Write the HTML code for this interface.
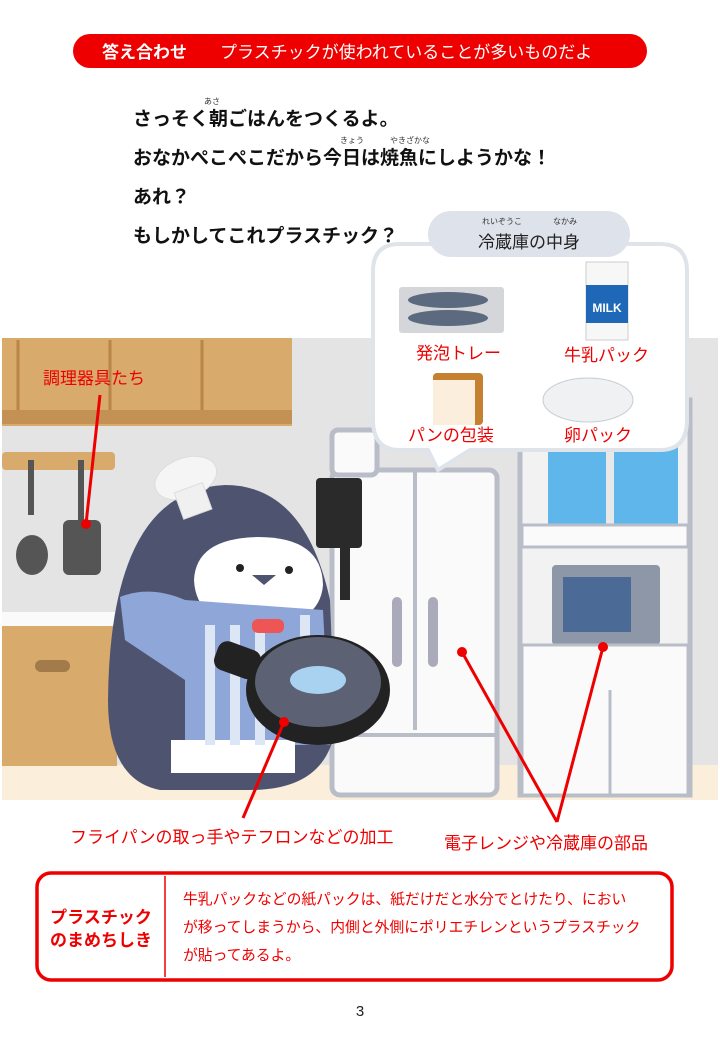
<!DOCTYPE html>
<html><head><meta charset="utf-8"><style>
body{margin:0;background:#fff;}
svg{display:block}
text{font-family:"Liberation Sans","Noto Sans CJK JP",sans-serif;}
</style></head><body>
<svg width="720" height="1040" viewBox="0 0 720 1040" xmlns="http://www.w3.org/2000/svg">
<defs><clipPath id="sc"><rect x="2" y="338" width="716" height="462"/></clipPath></defs>
<rect width="720" height="1040" fill="#fff"/>
<rect x="73" y="34" width="574" height="34" rx="17" fill="#ee0000"/>
<text x="102" y="58" font-size="17" font-weight="bold" fill="#fff">答え合わせ</text>
<text x="220" y="58" font-size="17" fill="#fff">プラスチックが使われていることが多いものだよ</text>
<g font-size="19" font-weight="bold" fill="#111">
<text x="133" y="125">さっそく朝ごはんをつくるよ。</text>
<text x="133" y="164">おなかぺこぺこだから今日は焼魚にしようかな！</text>
<text x="133" y="203">あれ？</text>
<text x="133" y="242">もしかしてこれプラスチック？</text>
</g>
<g font-size="8" fill="#333">
<text x="204" y="104">あさ</text><text x="340" y="143">きょう</text><text x="390" y="143">やきざかな</text>
</g>
<g clip-path="url(#sc)">
<rect x="2" y="338" width="716" height="430" fill="#e4e4e4"/>
<rect x="2" y="765" width="716" height="35" fill="#fbeedb"/>
<rect x="2" y="338" width="290" height="88" fill="#d8aa6c"/>
<rect x="2" y="410" width="290" height="14" fill="#c49155"/>
<line x1="18" y1="340" x2="18" y2="410" stroke="#b98549" stroke-width="3"/>
<line x1="110" y1="340" x2="110" y2="410" stroke="#b98549" stroke-width="3"/>
<line x1="202" y1="340" x2="202" y2="410" stroke="#b98549" stroke-width="3"/>
<rect x="2" y="452" width="113" height="18" rx="4" fill="#d8aa6c"/>
<rect x="28" y="460" width="6" height="55" fill="#555"/><ellipse cx="32" cy="555" rx="16" ry="20" fill="#555"/>
<rect x="78" y="460" width="6" height="60" fill="#555"/><rect x="63" y="520" width="38" height="55" rx="6" fill="#555"/>
<rect x="2" y="612" width="115" height="14" fill="#fafafa"/>
<rect x="2" y="626" width="115" height="140" fill="#d8aa6c"/>
<rect x="35" y="660" width="35" height="12" rx="6" fill="#a37a4a"/>
<rect x="332" y="470" width="165" height="325" rx="8" fill="#fafafa" stroke="#b8bdc8" stroke-width="5"/>
<line x1="415" y1="470" x2="415" y2="730" stroke="#b8bdc8" stroke-width="4"/>
<line x1="335" y1="735" x2="495" y2="735" stroke="#b8bdc8" stroke-width="4"/>
<rect x="392" y="597" width="10" height="70" rx="5" fill="#aab"/><rect x="428" y="597" width="10" height="70" rx="5" fill="#aab"/>
<rect x="332" y="430" width="45" height="45" rx="6" fill="#fafafa" stroke="#b8bdc8" stroke-width="5"/>
<rect x="520" y="400" width="170" height="395" fill="#f2f2f2" stroke="#b8bdc8" stroke-width="5"/>
<rect x="548" y="440" width="130" height="85" fill="#5fb6ea"/>
<line x1="610" y1="440" x2="610" y2="525" stroke="#e8e8e8" stroke-width="8"/>
<rect x="522" y="525" width="166" height="22" fill="#fafafa" stroke="#b8bdc8" stroke-width="3"/>
<rect x="552" y="565" width="108" height="80" rx="4" fill="#8d97a8"/>
<rect x="563" y="577" width="68" height="55" fill="#4b6a96"/>
<rect x="522" y="645" width="166" height="150" fill="#fafafa" stroke="#b8bdc8" stroke-width="3"/>
<line x1="610" y1="690" x2="610" y2="795" stroke="#b8bdc8" stroke-width="3"/>
<path d="M108 700 Q110 490 225 485 Q305 485 330 600 L335 730 Q325 790 250 790 L160 790 Q108 780 108 700Z" fill="#4e5470"/>
<path d="M194 580 Q196 538 258 537 Q322 537 323 585 Q320 625 258 630 Q196 625 194 580Z" fill="#fff"/>
<path d="M120 597 Q150 585 185 600 L323 610 L330 745 L185 745 L185 680 L125 640Z" fill="#8fa6d8"/>
<path d="M171 740 L295 740 L295 773 L171 773Z" fill="#fff"/>
<g fill="#dde6f4"><rect x="205" y="625" width="10" height="120"/><rect x="230" y="625" width="10" height="120"/><rect x="255" y="625" width="10" height="120"/><rect x="300" y="615" width="10" height="120"/></g>
<circle cx="240" cy="568" r="4" fill="#222"/><circle cx="289" cy="570" r="4" fill="#222"/>
<path d="M252 575 L276 575 L264 585Z" fill="#4e5470"/>
<rect x="252" y="619" width="32" height="14" rx="6" fill="#e55"/>
<g transform="rotate(-20 188 490)"><ellipse cx="190" cy="478" rx="32" ry="20" fill="#f5f5f5" stroke="#ddd"/><rect x="174" y="488" width="30" height="28" fill="#f0f0f0" stroke="#ddd"/></g>
<rect x="316" y="478" width="46" height="70" rx="4" fill="#2a2a2a"/>
<rect x="340" y="545" width="10" height="55" fill="#2a2a2a"/>
<rect x="215" y="645" width="45" height="30" rx="10" fill="#222" transform="rotate(20 237 660)"/>
<ellipse cx="318" cy="690" rx="72" ry="55" fill="#222"/>
<ellipse cx="318" cy="682" rx="63" ry="45" fill="#5c6274"/>
<ellipse cx="318" cy="680" rx="28" ry="14" fill="#a8d2f0"/>
</g>
<path d="M400 244 H660 Q687 244 687 271 V420 Q687 450 660 450 H470 L438 470 L428 450 H400 Q373 450 373 420 V271 Q373 244 400 244Z" fill="#fff" stroke="#dfe3ea" stroke-width="4"/>
<rect x="428" y="211" width="202" height="46" rx="23" fill="#dee2ea"/>
<text x="529" y="248" font-size="17" text-anchor="middle" fill="#222">冷蔵庫の中身</text>
<text x="482" y="224" font-size="8" fill="#333">れいぞうこ</text><text x="553" y="224" font-size="8" fill="#333">なかみ</text>
<rect x="399" y="287" width="105" height="46" rx="3" fill="#d4d6da"/>
<ellipse cx="448" cy="300" rx="40" ry="8" fill="#5c6a80"/><ellipse cx="448" cy="318" rx="40" ry="8" fill="#5c6a80"/>
<rect x="586" y="262" width="42" height="78" fill="#f7f7f7" stroke="#ccc"/>
<rect x="586" y="285" width="42" height="38" fill="#1f67b7"/>
<text x="607" y="312" font-size="12" font-weight="bold" fill="#fff" text-anchor="middle">MILK</text>
<rect x="433" y="373" width="50" height="52" rx="4" fill="#c5812f"/><rect x="433" y="380" width="42" height="45" fill="#fbeedd"/>
<ellipse cx="588" cy="400" rx="45" ry="22" fill="#f0f1f3" stroke="#c8ccd2"/>
<g font-size="17" fill="#ee0000">
<text x="416" y="359">発泡トレー</text><text x="564" y="361">牛乳パック</text>
<text x="408" y="441">パンの包装</text><text x="564" y="441">卵パック</text>
<text x="43" y="384">調理器具たち</text>
<text x="70" y="843">フライパンの取っ手やテフロンなどの加工</text>
<text x="444" y="849">電子レンジや冷蔵庫の部品</text>
</g>
<g stroke="#ee0000" stroke-width="3" fill="none">
<line x1="100" y1="395" x2="86" y2="524"/>
<line x1="284" y1="722" x2="243" y2="818"/>
<line x1="462" y1="652" x2="557" y2="822"/>
<line x1="603" y1="647" x2="557" y2="822"/>
</g>
<g fill="#ee0000"><circle cx="86" cy="524" r="5"/><circle cx="284" cy="722" r="5"/><circle cx="462" cy="652" r="5"/><circle cx="603" cy="647" r="5"/></g>
<rect x="37" y="873" width="635" height="107" rx="14" fill="#fff" stroke="#ee0000" stroke-width="3.5"/>
<line x1="165" y1="876" x2="165" y2="977" stroke="#ee0000" stroke-width="1.5"/>
<text x="101" y="923" font-size="17" font-weight="bold" fill="#ee0000" text-anchor="middle">プラスチック</text>
<text x="101" y="946" font-size="17" font-weight="bold" fill="#ee0000" text-anchor="middle">のまめちしき</text>
<g font-size="14.8" fill="#ee0000">
<text x="183" y="904">牛乳パックなどの紙パックは、紙だけだと水分でとけたり、におい</text>
<text x="183" y="932">が移ってしまうから、内側と外側にポリエチレンというプラスチック</text>
<text x="183" y="960">が貼ってあるよ。</text>
</g>
<text x="360" y="1016" font-size="15" fill="#222" text-anchor="middle">3</text>
</svg>
</body></html>
